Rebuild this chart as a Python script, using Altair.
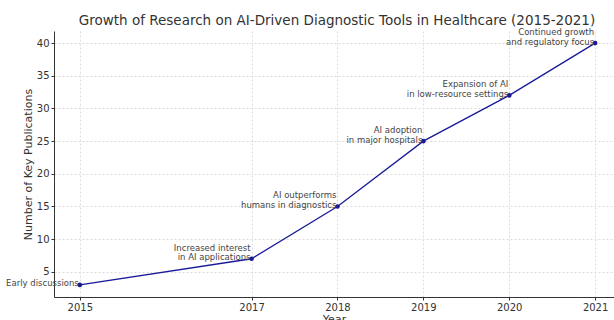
import altair as alt
import pandas as pd

# Key publication counts per year, with the milestone note for each year
years = [2015, 2017, 2018, 2019, 2020, 2021]
publications = [3, 7, 15, 25, 32, 40]
milestones = [
    "Early discussions",
    "Increased interest\nin AI applications",
    "AI outperforms\nhumans in diagnostics",
    "AI adoption\nin major hospitals",
    "Expansion of AI\nin low-resource settings",
    "Continued growth\nand regulatory focus",
]
y_ticks = [5, 10, 15, 20, 25, 30, 35, 40]

df = pd.DataFrame({"Year": years, "Publications": publications, "Note": milestones})
# Notes sit above their point, so the last line hugs the point and any
# earlier line stacks on top of it
df["NoteBottom"] = df["Note"].str.split("\n").str[-1]
df["NoteTop"] = df["Note"].apply(lambda s: s.split("\n")[0] if "\n" in s else "")

FONT = "DejaVu Sans"
LINE_COLOR = "#1a1a99"
NOTE_SIZE = 8.5
NOTE_LEADING = 9.5
NOTE_DROP = 3.5

x_enc = alt.X(
    "Year:Q",
    scale=alt.Scale(domain=[2014.7, 2021.22], nice=False, zero=False),
    axis=alt.Axis(
        title="Year",
        values=years,
        format="d",
        titlePadding=1,
    ),
)
y_enc = alt.Y(
    "Publications:Q",
    scale=alt.Scale(domain=[1.15, 41.85], nice=False, zero=False),
    axis=alt.Axis(
        title="Number of Key Publications",
        values=y_ticks,
        titlePadding=3,
    ),
)

# One base chart so every layer shares the same scales and axes
base = alt.Chart(df).encode(x=x_enc, y=y_enc)

line = base.mark_line(color=LINE_COLOR, strokeWidth=1.3)
points = base.mark_circle(color=LINE_COLOR, size=22, opacity=1)

note_style = dict(
    align="right",
    baseline="bottom",
    fontSize=NOTE_SIZE,
    font=FONT,
    color="#444444",
    dx=-1,
)
notes_bottom = base.mark_text(dy=NOTE_DROP, **note_style).encode(text="NoteBottom:N")
notes_top = base.mark_text(dy=NOTE_DROP - NOTE_LEADING, **note_style).encode(text="NoteTop:N")

chart = (
    alt.layer(line, points, notes_bottom, notes_top)
    .properties(
        width=560,
        height=266,
        title=alt.TitleParams(
            "Growth of Research on AI-Driven Diagnostic Tools in Healthcare (2015-2021)",
            fontSize=13.5,
            fontWeight="normal",
            font=FONT,
            color="#333333",
            anchor="middle",
            dx=3,
            offset=1,
        ),
        autosize=alt.AutoSizeParams(type="none"),
        padding={"left": 54, "top": 31, "right": 0, "bottom": 23},
    )
    .configure(font=FONT)
    .configure_view(stroke=None)
    .configure_axis(
        labelColor="#333333",
        titleColor="#333333",
        labelFont=FONT,
        titleFont=FONT,
        labelFontSize=10,
        titleFontSize=11,
        titleFontWeight="normal",
        labelOverlap=False,
        labelPadding=2,
        gridDash=[2, 2],
        gridColor="#dddddd",
        domainColor="#333333",
        tickColor="#333333",
        tickSize=3,
    )
)

chart.save("out.html", embed_options={"renderer": "svg", "actions": False})
